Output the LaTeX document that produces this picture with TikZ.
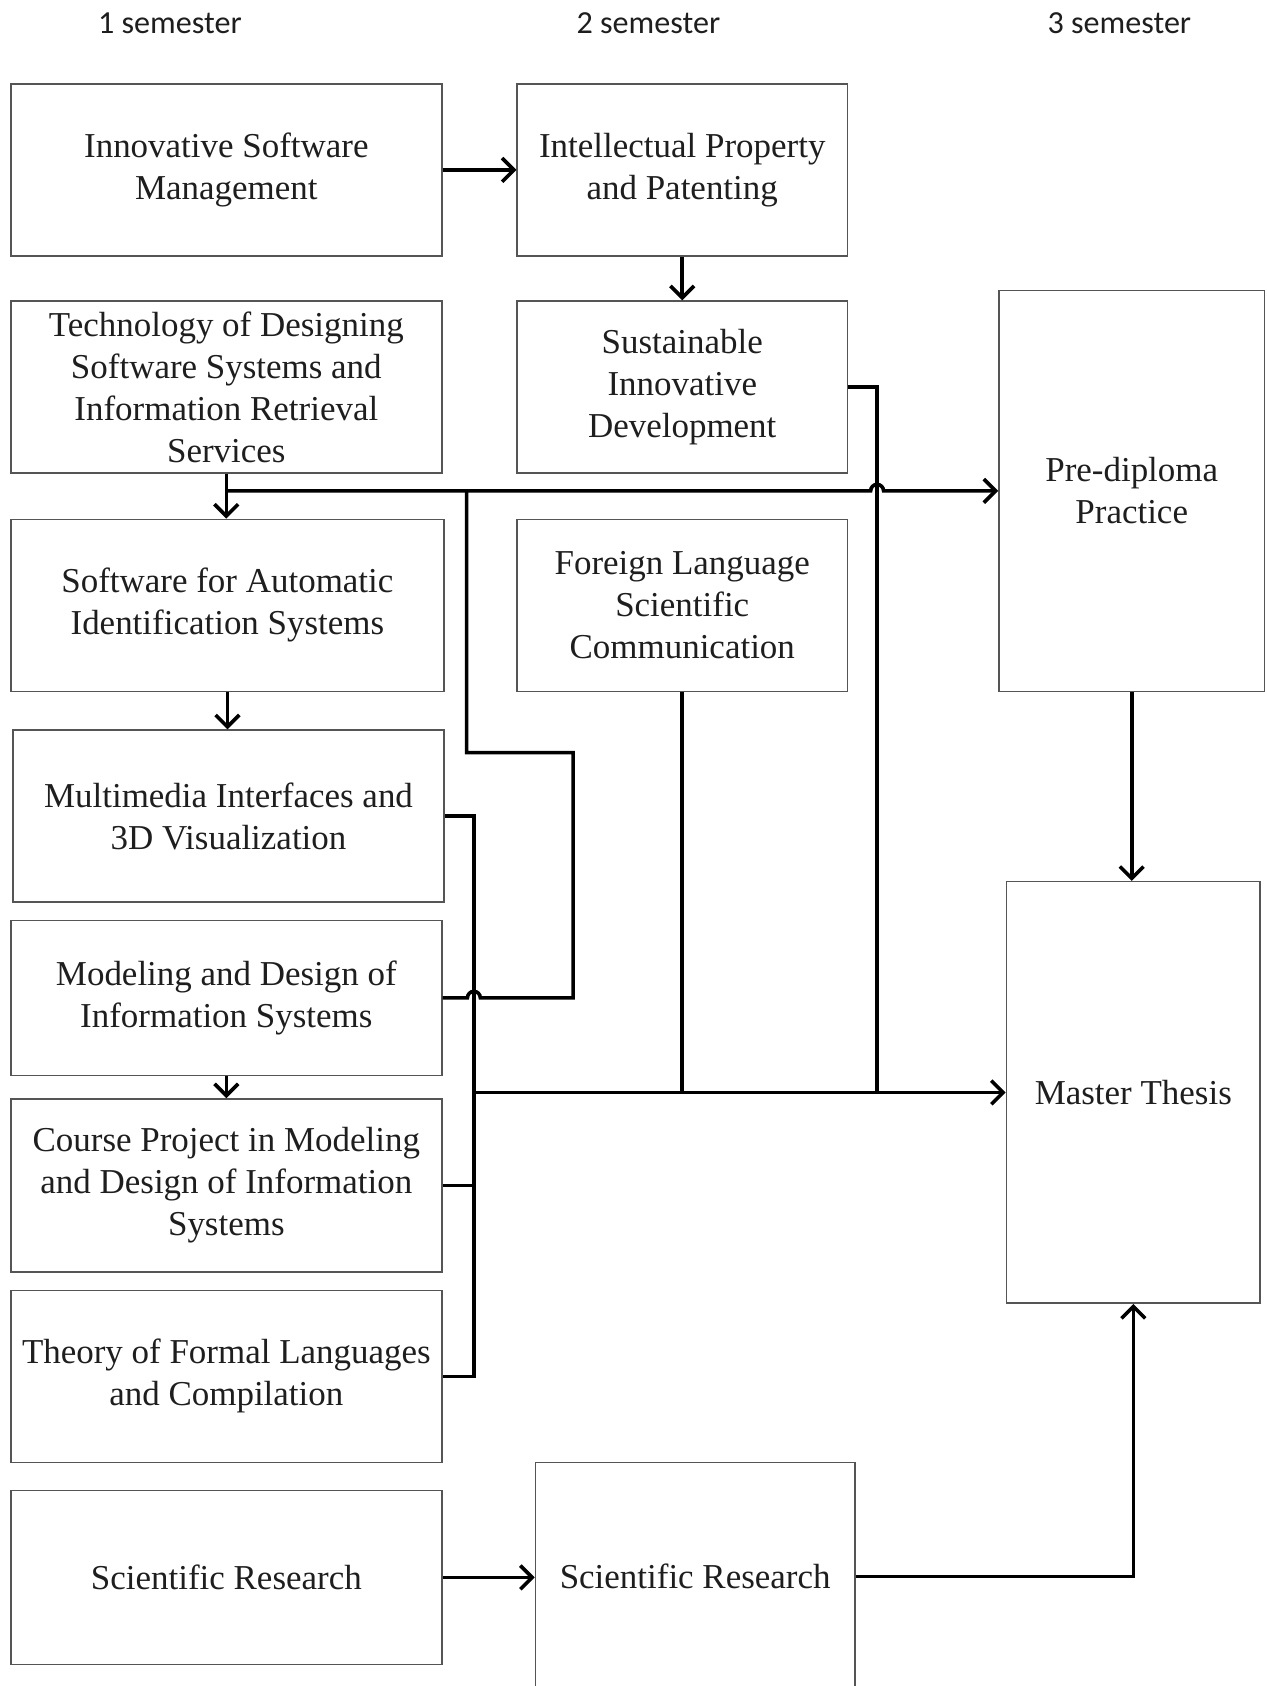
\documentclass[tikz,border=0pt]{standalone}
\usepackage{fontspec}
\setmainfont{Liberation Serif}
\newfontfamily\semfont{Carlito}
\usetikzlibrary{arrows.meta,calc,positioning}
\definecolor{boxgray}{RGB}{85,85,85}
\definecolor{textgray}{RGB}{30,30,30}

\begin{document}
\begin{tikzpicture}[x=0.2mm, y=-0.2mm,
    course/.style={draw=boxgray, line width=0.8pt, align=center, inner sep=0pt,
        text=textgray, font=\fontsize{18.5}{22.2}\selectfont},
    link/.style={line width=1.9pt},
    semlabel/.style={text=textgray, font=\semfont\fontsize{17}{20}\selectfont},
    >={Straight Barb[length=2.2mm,width=4.4mm]}]
    \useasboundingbox (0,0) rectangle (1178,1568);

    % Semesters
    \node[semlabel] (sem1) at (158,22) {1 semester};
    \node[semlabel] (sem2) at (603,22) {2 semester};
    \node[semlabel] (sem3) at (1041,22) {3 semester};

    % 1 semester
    \node[course, minimum width=80.2mm, minimum height=32mm] (ism) at (210.5,158) {Innovative Software\\Management};
    \node[course, minimum width=80.2mm, minimum height=32mm] (tds) at (210.5,360) {Technology of Designing\\Software Systems and\\Information Retrieval\\Services};
    \node[course, minimum width=80.6mm, minimum height=32mm] (sai) at (211.5,563) {Software for Automatic\\Identification Systems};
    \node[course, minimum width=80.2mm, minimum height=32mm] (mmi) at (212.5,759) {Multimedia Interfaces and\\3D Visualization};
    \node[course, minimum width=80.2mm, minimum height=28.8mm] (mdi) at (210.5,928) {Modeling and Design of\\Information Systems};
    \node[course, minimum width=80.2mm, minimum height=32.2mm] (cpm) at (210.5,1102.5) {Course Project in Modeling\\and Design of Information\\Systems};
    \node[course, minimum width=80.2mm, minimum height=32mm] (tfl) at (210.5,1280) {Theory of Formal Languages\\and Compilation};
    \node[course, minimum width=80.2mm, minimum height=32.4mm] (sr1) at (210.5,1467) {Scientific Research};

    % 2 semester
    \node[course, minimum width=61.4mm, minimum height=32mm] (ipp) at (634.5,158) {Intellectual Property\\and Patenting};
    \node[course, minimum width=61.4mm, minimum height=32mm] (sid) at (634.5,360) {Sustainable\\Innovative\\Development};
    \node[course, minimum width=61.4mm, minimum height=32mm] (flc) at (634.5,563) {Foreign Language\\Scientific\\Communication};
    \node[course, minimum width=59.4mm, minimum height=42.4mm] (sr2) at (646.5,1466) {Scientific Research};

    % 3 semester
    \node[course, minimum width=49.4mm, minimum height=74.6mm] (pdp) at (1052.5,456.5) {Pre-diploma\\Practice};
    \node[course, minimum width=47.2mm, minimum height=78.4mm] (mth) at (1054,1016) {Master Thesis};

    % Bend points
    \coordinate (c1) at ($(sid.east)+(27,0)$);
    \coordinate (bus) at ($(mmi.east)+(27,0)$);
    \coordinate (c2) at (434,700);
    \coordinate (c3) at (533,700);

    % Chains inside a column
    \draw[link,->] (ism.east) -- (ipp.west);
    \draw[link,->] (ipp.south) -- (sid.north);
    \draw[link,->] (tds.south) -- (tds.south |- sai.north);
    \draw[link,->] (sai.south) -- (sai.south |- mmi.north);
    \draw[link,->] (mdi.south) -- (mdi.south |- cpm.north);

    % To Pre-diploma Practice
    \draw[link,->] (tds.south |- pdp.west) -- ($(c1 |- pdp.west)+(-6,0)$)
        arc[start angle=180, end angle=0, radius=1.2mm] -- (pdp.west);
    \draw[link] (mdi.east) -- ($(bus |- mdi.east)+(-6,0)$)
        arc[start angle=180, end angle=0, radius=1.2mm] -- (c3 |- mdi.east) -- (c3) -- (c2) -- (c2 |- pdp.west);

    % To Master Thesis
    \draw[link] (mmi.east) -- (bus) -- (bus |- tfl.east) -- (tfl.east);
    \draw[link] (cpm.east) -- (bus |- cpm.east);
    \draw[link,->] (bus |- mth.west) -- (mth.west);
    \draw[link] (flc.south) -- (flc.south |- mth.west);
    \draw[link] (sid.east) -- (c1) -- (c1 |- mth.west);
    \draw[link,->] (pdp.south) -- (pdp.south |- mth.north);

    % Scientific Research
    \draw[link,->] (sr1.east) -- (sr1.east -| sr2.west);
    \draw[link,->] (sr2.east) -| (mth.south);
\end{tikzpicture}
\end{document}
